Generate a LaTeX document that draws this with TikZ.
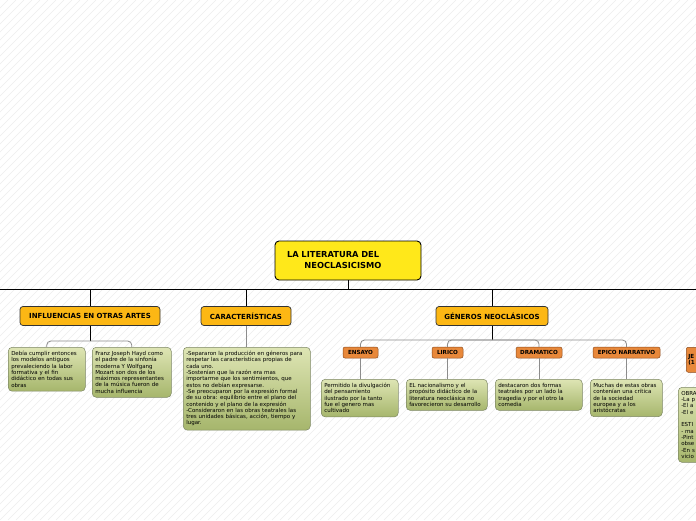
\documentclass[tikz,border=0pt]{standalone}
\usepackage{fontspec}
\setmainfont{DejaVu Sans}
\usepackage{tikz}
\usetikzlibrary{positioning}

\definecolor{rootyellow}{RGB}{255,232,26}
\definecolor{branchorange}{RGB}{252,183,20}
\definecolor{genreorange}{RGB}{232,136,58}
\definecolor{genreborder}{RGB}{140,75,30}
\definecolor{leaftop}{RGB}{222,229,180}
\definecolor{leafbot}{RGB}{166,182,108}
\definecolor{leafborder}{RGB}{125,135,100}

\begin{document}
\begin{tikzpicture}[
  x=1pt, y=-1pt,
  root/.style={draw=black,line width=0.9pt,rounded corners=4pt,fill=rootyellow,minimum width=146pt,minimum height=39pt,text width=122pt,align=left,inner sep=0pt,font=\fontsize{8.3}{11}\selectfont\bfseries},
  branch/.style={draw=black!80,line width=0.7pt,rounded corners=3pt,fill=branchorange,minimum height=19pt,inner sep=1pt,font=\fontsize{7}{8}\selectfont\bfseries},
  genre/.style={draw=genreborder,line width=0.5pt,rounded corners=2pt,fill=genreorange,minimum height=11pt,inner sep=1pt,font=\fontsize{5.6}{6.5}\selectfont\bfseries},
  leaf/.style={draw=leafborder,line width=0.5pt,rounded corners=4pt,top color=leaftop,bottom color=leafbot,anchor=north west,align=left,inner xsep=3pt,inner ysep=4pt,font=\fontsize{5.5}{6.3}\selectfont},
  trunk/.style={draw=black,line width=0.9pt},
  sublink/.style={draw=black!45,line width=0.8pt,rounded corners=4pt},
  hatch/.style={draw=black!7,line width=0.4pt}
]
  \useasboundingbox (0,0) rectangle (696,520);
  \clip (0,0) rectangle (696,520);
  \fill[white] (0,0) rectangle (696,520);
  \foreach \i in {0,8,...,1216} \draw[hatch] (\i-520,520) -- (\i,0);

  % main topic and first level
  \node[root] (root) at (348,260.5) {LA LITERATURA DEL\\\hspace*{2.1em}NEOCLASICISMO};
  \node[branch, minimum width=140pt] (infl) at (90,316) {INFLUENCIAS EN OTRAS ARTES};
  \node[branch, minimum width=90pt] (carac) at (246,316) {CARACTERÍSTICAS};
  \node[branch, minimum width=112pt] (gener) at (492,316) {GÉNEROS NEOCLÁSICOS};

  \coordinate (busL) at (-5,289);
  \coordinate (busR) at (705,289);
  \draw[trunk] (busL) -- (busR);
  \draw[trunk] (root) -- (root |- busL);
  \draw[trunk] (infl) -- (infl |- busL);
  \draw[trunk] (carac) -- (carac |- busL);
  \draw[trunk] (gener) -- (gener |- busL);

  % influencias
  \node[leaf, text width=71pt] (inflA) at (8,347) {Debía cumplir entonces\\los modelos antiguos\\prevaleciendo la labor\\formativa y el fin\\didáctico en todas sus\\obras};
  \node[leaf, text width=73pt] (inflB) at (92,347) {Franz Joseph Hayd como\\el padre de la sinfonía\\moderna Y Wolfgang\\Mozart son dos de los\\máximos representantes\\de la música fueron de\\mucha influencia};
  \coordinate (jInfl) at (90,341);
  \draw[trunk] (infl) -- (jInfl);
  \draw[sublink] (inflA.north) |- (jInfl) -| (inflB.north);

  % caracteristicas
  \node[leaf, text width=121pt] (caracTxt) at (183,347) {-Separaron la producción en géneros para\\respetar las características propias de\\cada uno.\\-Sostenían que la razón era mas\\importarme que los sentimientos, que\\estos no debían expresarse.\\-Se preocuparon por la expresión formal\\de su obra: equilibrio entre el plano del\\contenido y el plano de la expresión\\-Consideraron en las obras teatrales las\\tres unidades básicas, acción, tiempo y\\lugar.};
  \draw[sublink] (carac) -- (carac |- caracTxt.north);

  % generos
  \node[genre, minimum width=35pt] (ensayo) at (360.5,352.5) {ENSAYO};
  \node[genre, minimum width=31pt] (lirico) at (447.5,352.5) {LIRICO};
  \node[genre, minimum width=46pt] (dramat) at (539,352.5) {DRAMATICO};
  \node[genre, minimum width=67pt] (epico) at (626.5,352.5) {EPICO NARRATIVO};
  \node[genre, anchor=north west, text width=26pt, minimum height=25pt, inner xsep=2pt, align=left] (jesuit) at (686,347) {JE\\(1};

  \coordinate (jGen) at (492,340);
  \draw[trunk] (gener) -- (jGen);
  \draw[sublink] (ensayo.north) |- (jGen) -| (epico.north);
  \draw[sublink] (lirico.north) |- (jGen);
  \draw[sublink] (dramat.north) |- (jGen);

  \node[leaf, text width=71pt] (ensayoTxt) at (321,379) {Permitido la divulgación\\del pensamiento\\ilustrado por la tanto\\fue el genero mas\\cultivado};
  \node[leaf, text width=75pt] (liricoTxt) at (406,379) {EL nacionalismo y el\\propósito didáctico de la\\literatura neoclásica no\\favorecieron su desarrollo};
  \node[leaf, text width=81pt] (dramatTxt) at (495,379) {destacaron dos formas\\teatrales por un lado la\\tragedia y por el otro la\\comedia};
  \node[leaf, text width=66pt] (epicoTxt) at (590,379) {Muchas de estas obras\\contenían una crítica\\de la sociedad\\europea y a los\\aristócratas};
  \node[leaf, text width=60pt] (jesuitTxt) at (678,387) {OBRA\\-La p\\-El a\\-El e\\[6.3pt]ESTI\\- ma\\-Pint\\obse\\-En s\\vicio};

  \draw[sublink] (ensayo) -- (ensayo |- ensayoTxt.north);
  \draw[sublink] (lirico) -- (lirico |- liricoTxt.north);
  \draw[sublink] (dramat) -- (dramat |- dramatTxt.north);
  \draw[sublink] (epico) -- (epico |- epicoTxt.north);
\end{tikzpicture}
\end{document}
